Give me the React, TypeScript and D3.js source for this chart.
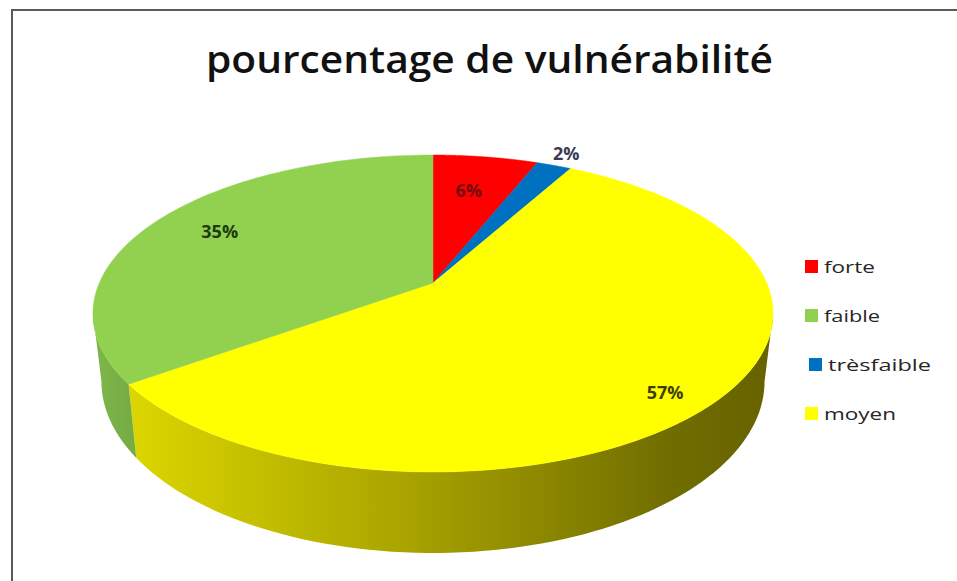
import React from 'react';
import * as d3 from 'd3';

// ---- data ----
const categories = ['forte', 'faible', 'trèsfaible', 'moyen'];
const values = [6, 35, 2, 57];
const valueLabels = ['6%', '35%', '2%', '57%'];
// order in which slices run clockwise from 12 o'clock
const pieOrder = ['forte', 'trèsfaible', 'moyen', 'faible'];
const title = 'pourcentage de vulnérabilité';

// ---- styling ----
const topColors: Record<string, string> = {
  forte: '#ff0000',
  faible: '#92d050',
  'trèsfaible': '#0070c0',
  moyen: '#ffff00',
};
const legendColors = topColors;
const labelColors: Record<string, string> = {
  forte: '#6e0d0d',
  faible: '#1d3b10',
  'trèsfaible': '#3a3a55',
  moyen: '#3f3d00',
};
const labelLayout: Record<string, { r: number; dx: number; dy: number }> = {
  forte: { r: 0.7, dx: -3, dy: 0 },
  faible: { r: 0.75, dx: -4, dy: -3 },
  'trèsfaible': { r: 1.12, dx: 0, dy: -1 },
  moyen: { r: 0.82, dx: 3, dy: 17 },
};
const legendTextLen: Record<string, number> = {
  forte: 51,
  faible: 56,
  'trèsfaible': 103,
  moyen: 72,
};

const W = 957;
const H = 581;
const cx = 433;
const cy = 283;
const A = 333.7;
const B = 152.6;
const K = 0.1924;
const DEPTH = 65.4;
const BOTTOM_SHRINK = 0.975;

function proj(theta: number, r: number, z: number, shrink = 1) {
  const u = Math.sin(theta) * r;
  const v = -Math.cos(theta) * r;
  const w = 1 - K * v;
  return [cx + (A * u * shrink) / w, cy + (B * v + z) / w];
}

function arcPoints(a0: number, a1: number, z: number, shrink = 1, n = 80) {
  const pts: number[][] = [];
  for (let i = 0; i <= n; i++) {
    const t = a0 + ((a1 - a0) * i) / n;
    pts.push(proj(t, 1, z, shrink));
  }
  return pts;
}

const toPath = (pts: number[][]) =>
  'M' + pts.map((p) => `${p[0].toFixed(2)},${p[1].toFixed(2)}`).join('L') + 'Z';

export default function App() {
  const pieData = pieOrder.map((name) => ({
    name,
    value: values[categories.indexOf(name)],
    label: valueLabels[categories.indexOf(name)],
  }));
  const arcs = d3
    .pie<any>()
    .sort(null)
    .value((d: any) => d.value)(pieData);

  const sil = Math.acos(-K);
  const visStart = sil;
  const visEnd = 2 * Math.PI - sil;

  const sides: { name: string; d: string }[] = [];
  arcs.forEach((a: any) => {
    const s = Math.max(a.startAngle, visStart);
    const e = Math.min(a.endAngle, visEnd);
    if (e > s) {
      const top = arcPoints(s, e, 0);
      const bot = arcPoints(e, s, DEPTH, BOTTOM_SHRINK);
      sides.push({ name: a.data.name, d: toPath(top.concat(bot)) });
    }
  });

  const tops = arcs.map((a: any) => {
    const pts = [[cx, cy], ...arcPoints(a.startAngle, a.endAngle, 0)];
    return { name: a.data.name, d: toPath(pts) };
  });

  const labels = arcs.map((a: any) => {
    const mid = (a.startAngle + a.endAngle) / 2;
    const L = labelLayout[a.data.name];
    const [x, y] = proj(mid, L.r, 0);
    return { name: a.data.name, text: a.data.label, x: x + L.dx, y: y + L.dy };
  });

  const legendY = d3.scalePoint<string>().domain(categories).range([267, 414]);
  const legendX: Record<string, number> = {
    forte: 805,
    faible: 805,
    'trèsfaible': 809,
    moyen: 805,
  };

  return (
    <svg
      width={W}
      height={H}
      style={{ position: 'absolute', left: 0, top: 0, background: '#fff' }}
      fontFamily="'Open Sans', sans-serif"
    >
      <defs>
        <linearGradient id="ySide" gradientUnits="userSpaceOnUse" x1={94} y1={0} x2={773} y2={0}>
          <stop offset="0" stopColor="#e2dd00" />
          <stop offset="0.45" stopColor="#aaa500" />
          <stop offset="0.85" stopColor="#706d00" />
          <stop offset="1" stopColor="#666300" />
        </linearGradient>
        <linearGradient id="gSide" gradientUnits="userSpaceOnUse" x1={94} y1={0} x2={140} y2={0}>
          <stop offset="0" stopColor="#7fb649" />
          <stop offset="1" stopColor="#74aa42" />
        </linearGradient>
      </defs>
      <rect x={0} y={0} width={W} height={H} fill="#fff" />
      <line x1={12} y1={10} x2={W} y2={10} stroke="#5a5a5a" strokeWidth={2} />
      <line x1={12} y1={9} x2={12} y2={H} stroke="#5a5a5a" strokeWidth={2} />

      <text
        x={489.5}
        y={73}
        textAnchor="middle"
        fontSize={38}
        fontWeight={600}
        fill="#111"
        textLength={567}
        lengthAdjust="spacingAndGlyphs"
      >
        {title}
      </text>

      {sides.map((s) => (
        <path
          key={'side-' + s.name}
          d={s.d}
          fill={s.name === 'moyen' ? 'url(#ySide)' : s.name === 'faible' ? 'url(#gSide)' : topColors[s.name]}
        />
      ))}
      {tops.map((t) => (
        <path key={'top-' + t.name} d={t.d} fill={topColors[t.name]} stroke={topColors[t.name]} strokeWidth={0.5} />
      ))}

      {labels.map((l) => (
        <text
          key={'lab-' + l.name}
          x={l.x}
          y={l.y}
          textAnchor="middle"
          dominantBaseline="central"
          fontSize={18}
          fontWeight={700}
          fill={labelColors[l.name]}
        >
          {l.text}
        </text>
      ))}

      {categories.map((c) => {
        const y = legendY(c) as number;
        const x = legendX[c];
        return (
          <g key={'leg-' + c}>
            <rect x={x} y={y - 7} width={13} height={13} fill={legendColors[c]} />
            <text
              x={x + 19}
              y={y + 6}
              fontSize={17}
              fontWeight={500}
              fill="#262626"
              textLength={legendTextLen[c]}
              lengthAdjust="spacingAndGlyphs"
            >
              {c}
            </text>
          </g>
        );
      })}
    </svg>
  );
}
